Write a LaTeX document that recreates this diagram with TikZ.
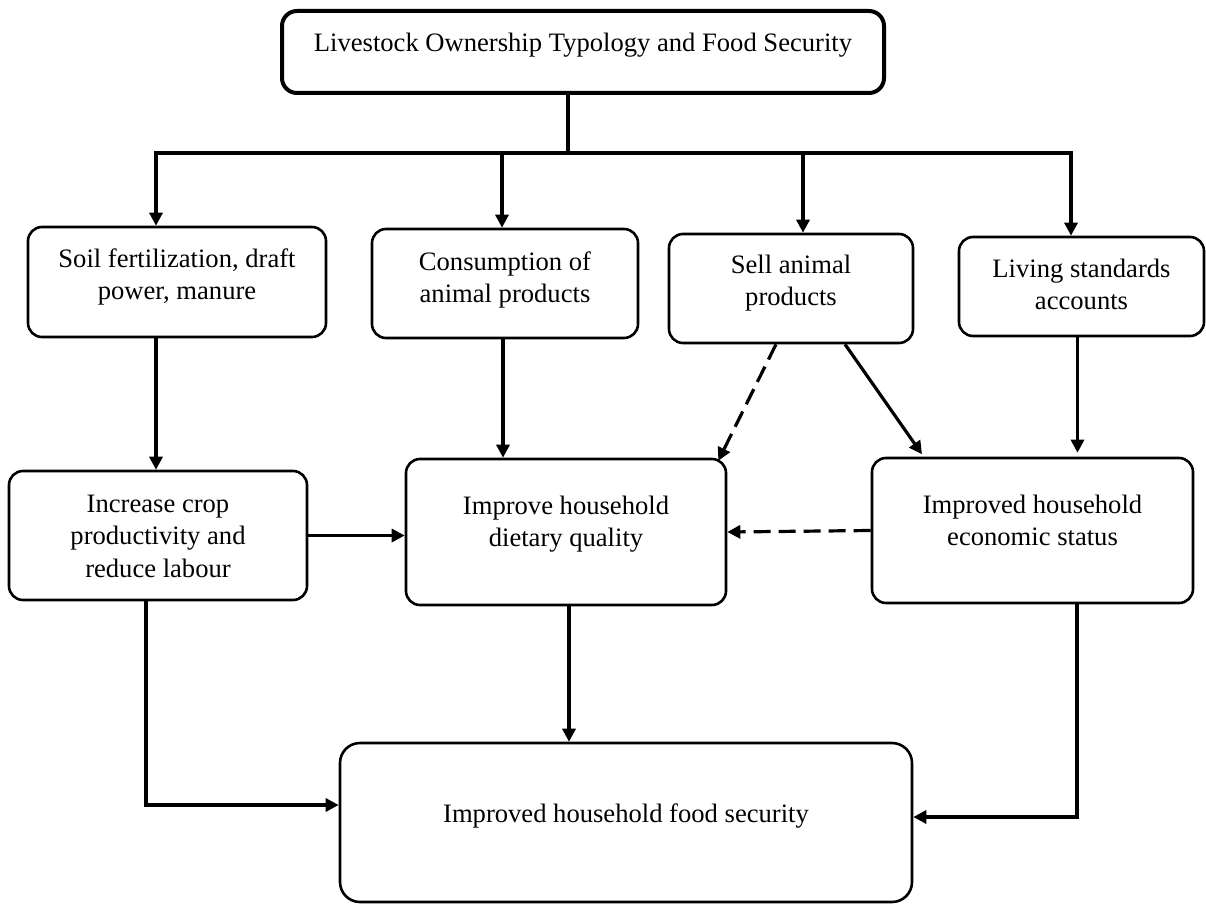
\documentclass[tikz,border=0pt]{standalone}
\usepackage{fontspec}
\setmainfont{Liberation Serif}
\usetikzlibrary{arrows.meta,calc}
\begin{document}
\begin{tikzpicture}[x=1pt,y=-1pt,
  box/.style={draw, line width=2.6pt, rounded corners=14pt, inner sep=0pt},
  lbl/.style={anchor=north, inner sep=0pt, align=center, font=\fontsize{26.6}{32.5}\selectfont},
  conn/.style={line width=3.2pt},
  tip/.tip={Triangle[length=13pt,width=13pt]},
  arr/.style={conn, -tip},
  darr/.style={arr, dash pattern=on 17pt off 8pt}]
\useasboundingbox (0,0) rectangle (1206,904);
% boxes
\node[box, line width=4pt, rounded corners=15pt, minimum width=602pt, minimum height=82pt] (top) at (583,52) {};
\node[box, minimum width=298pt, minimum height=110pt] (soil) at (177,282) {};
\node[box, minimum width=266pt, minimum height=109pt] (cons) at (505,283.5) {};
\node[box, minimum width=244pt, minimum height=109pt] (sell) at (791,288.5) {};
\node[box, minimum width=245pt, minimum height=99pt] (living) at (1081.5,286.5) {};
\node[box, minimum width=298pt, minimum height=129pt] (incr) at (158,535.5) {};
\node[box, minimum width=320pt, minimum height=146pt] (diet) at (566,532) {};
\node[box, minimum width=321pt, minimum height=145pt] (econ) at (1032.5,530.5) {};
\node[box, rounded corners=20pt, minimum width=572pt, minimum height=159pt] (food) at (626,822.5) {};
% texts
\node[lbl] (topt) at (583,28.25) {\strut Livestock Ownership Typology and Food Security};
\node[lbl] (soilt) at (177,244.25) {\strut Soil fertilization, draft\\power, manure};
\node[lbl] (const) at (505,247.25) {\strut Consumption of\\animal products};
\node[lbl] (sellt) at (791,250.25) {\strut Sell animal\\products};
\node[lbl] (livingt) at (1081.5,254.25) {\strut Living standards\\accounts};
\node[lbl] (incrt) at (158,489.25) {\strut Increase crop\\productivity and\\reduce labour};
\node[lbl] (diett) at (566,491.25) {\strut Improve household\\dietary quality};
\node[lbl] (econt) at (1032.5,490.25) {\strut Improved household\\economic status};
\node[lbl] (foodt) at (626,799.25) {\strut Improved household food security};
% junctions
\coordinate (j0) at (568,153);
\coordinate (j1) at (156,153);
\coordinate (j2) at (502,153);
\coordinate (j3) at (803,153);
\coordinate (j4) at (1071,153);
\coordinate (k1) at (146,805);
\coordinate (k2) at (1077,817);
% connectors
\draw[conn] (top.south -| j0) -- (j0);
\draw[conn, tip-tip] (soil.north -| j1) -- (j1) -- (j4) -- (living.north -| j4);
\draw[arr] (j2) -- (cons.north -| j2);
\draw[arr] (j3) -- (sell.north -| j3);
\draw[arr] (soil.south -| j1) -- (incr.north -| j1);
\draw[arr] ($(cons.south)+(-2,0)$) -- ($(diet.north -| cons.south)+(-2,0)$);
\draw[darr] ($(sell.south)+(-15,0)$) -- ($(diet.north east)+(-9,3)$);
\draw[arr, shorten >=3pt] ($(sell.south)+(54,0)$) -- ($(econ.north west)+(53,0)$);
\draw[arr, shorten >=4pt] ($(living.south)+(-4,0)$) -- ($(econ.north -| living.south)+(-4,0)$);
\draw[arr] (incr.east) -- (diet.west |- incr.east);
\draw[darr] (econ.west) -- (diet.east);
\draw[arr] ($(diet.south)+(3,0)$) -- ($(food.north -| diet.south)+(3,0)$);
\draw[arr] (incr.south -| k1) -- (k1) -- (food.west |- k1);
\draw[arr] (econ.south -| k2) -- (k2) -- (food.east |- k2);
\end{tikzpicture}
\end{document}
